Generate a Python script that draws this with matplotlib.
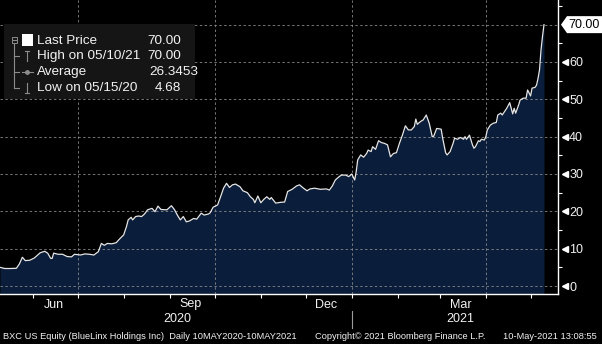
import numpy as np
import pandas as pd
import matplotlib
matplotlib.use('Agg')
import matplotlib.pyplot as plt
import matplotlib.dates as mdates
from matplotlib.patches import Rectangle, Polygon
from matplotlib.lines import Line2D
from matplotlib.transforms import ScaledTranslation, blended_transform_factory

# BXC US Equity, daily close 10MAY2020-10MAY2021 (calendar-day offsets from start)
start = pd.Timestamp('2020-05-10')
day_offsets = [0, 3, 5, 8, 11, 13, 15, 17, 20, 23, 27, 30, 32, 34, 35, 36, 39, 42, 45, 48,
               50, 54, 57, 60, 63, 66, 68, 70, 72, 75, 78, 80, 83, 85, 86, 88, 89, 91, 93, 95,
               97, 99, 102, 104, 106, 108, 112, 115, 117, 119, 121, 123, 125, 127, 130, 132, 135, 137, 140, 141,
               143, 146, 148, 150, 152, 154, 156, 158, 161, 163, 166, 168, 170, 171, 173, 175, 177, 179, 181, 182,
               185, 188, 191, 193, 196, 199, 201, 203, 206, 208, 211, 215, 219, 221, 223, 225, 227, 229, 232, 234,
               236, 238, 239, 240, 242, 244, 246, 247, 249, 250, 252, 254, 256, 258, 260, 262, 264, 266, 268, 270,
               272, 274, 276, 278, 279, 280, 282, 284, 286, 288, 290, 291, 293, 296, 297, 299, 300, 302, 304, 305,
               307, 309, 311, 312, 313, 315, 317, 318, 319, 321, 322, 323, 325, 326, 327, 329, 331, 333, 334, 336,
               337, 340, 342, 343, 344, 345, 346, 348, 349, 351, 353, 354, 356, 357, 359, 360, 361, 362, 363, 364,
               365]
prices = [5.0, 4.7, 4.68, 4.7, 4.75, 5.9, 7.7, 6.8, 6.9, 7.5, 8.9, 9.3, 8.8, 7.4, 7.4, 8.8, 8.5, 8.5, 7.9, 7.8,
          8.5, 8.3, 8.6, 8.5, 8.3, 9.2, 11.4, 10.9, 11.4, 11.3, 11.6, 12.5, 13.7, 16.1, 17.7, 18.4, 17.7, 18.6, 18.75, 18.6,
          19.3, 20.4, 20.8, 19.9, 21.4, 20.5, 20.4, 21.5, 20.5, 19.0, 17.7, 18.6, 17.2, 17.4, 18.1, 17.9, 19.5, 19.0, 19.3, 19.6,
          21.1, 21.7, 23.9, 26.2, 27.5, 26.4, 27.1, 27.3, 26.6, 25.5, 25.0, 23.9, 23.2, 22.3, 24.1, 22.3, 23.2, 23.9, 23.2, 23.7,
          22.2, 22.4, 22.5, 25.3, 25.9, 26.8, 27.1, 26.4, 25.5, 26.0, 26.2, 25.9, 26.0, 25.7, 26.8, 28.4, 29.1, 29.7, 29.7, 29.3,
          30.0, 28.4, 30.6, 33.75, 35.1, 34.5, 35.5, 36.4, 36.0, 37.3, 36.6, 38.9, 38.4, 38.2, 37.8, 34.6, 35.5, 35.7, 38.2, 40.4,
          42.9, 41.8, 41.8, 42.7, 44.7, 43.3, 44.0, 44.5, 45.8, 43.6, 40.0, 40.1, 42.2, 42.0, 39.6, 35.7, 35.1, 36.0, 38.2, 39.6,
          39.3, 39.8, 39.3, 40.0, 39.3, 40.4, 37.8, 36.9, 37.3, 38.9, 38.7, 39.3, 39.1, 40.0, 41.8, 43.1, 43.6, 43.8, 45.8, 46.3,
          45.8, 47.6, 49.1, 47.6, 46.1, 47.6, 46.3, 48.5, 49.8, 50.3, 50.3, 52.5, 50.9, 53.0, 53.2, 53.8, 55.6, 57.9, 63.2, 66.8,
          70.0]
avg_price = 26.3453

y_ticks = [0, 10, 20, 30, 40, 50, 60]
grid_levels = [0, 10, 20, 30, 40, 50, 60, 70]
quarter_starts = ['2020-07-01', '2020-10-01', '2021-01-01', '2021-04-01']
month_labels = ['Jun', 'Sep', 'Dec', 'Mar']
month_label_dates = ['2020-06-15', '2020-09-15', '2020-12-15', '2021-03-15']
year_labels = ['2020', '2021']
year_label_dates = ['2020-09-06', '2021-03-15']
footer_left = 'BXC US Equity (BlueLinx Holdings Inc)  Daily 10MAY2020-10MAY2021'
footer_mid = 'Copyright\u00a9 2021 Bloomberg Finance L.P.'
footer_right = '10-May-2021 13:08:55'

assert len(day_offsets) == len(prices)
dates = start + pd.to_timedelta(day_offsets, unit='D')


def dnum(s):
    return mdates.date2num(pd.Timestamp(s))


W, H = 602, 344
FILL = '#0a1e3b'
GRID = '#8a8a8a'
TXT = '#f2f2f2'
font = ['Liberation Sans', 'DejaVu Sans']


def fx(px):
    return px / W


def fy(py):
    return 1 - py / H


fig = plt.figure(figsize=(W / 100, H / 100), dpi=100, facecolor='black')
ax = fig.add_axes([0, fy(294), fx(558), 294 / H])
ax.set_facecolor('black')

ymin, ymax = -2.14, 76.6
ax.set_xlim(start, start + pd.Timedelta(days=374.4))
ax.set_ylim(ymin, ymax)

ax.fill_between(dates, prices, ymin, color=FILL, lw=0, zorder=1)
ax.plot(dates, prices, color='#e6e6e6', lw=0.9, zorder=3)

# dashed grid on top of the area
for lv in grid_levels:
    ax.axhline(lv, color=GRID, lw=0.7, ls=(0, (2.5, 2.5)), alpha=0.85, zorder=2)
for d in quarter_starts:
    ax.axvline(dnum(d), color=GRID, lw=0.7, ls=(0, (2.5, 2.5)), alpha=0.85, zorder=2)

# spines
for s in ['top', 'left']:
    ax.spines[s].set_visible(False)
for s in ['right', 'bottom']:
    ax.spines[s].set_color('white')
    ax.spines[s].set_linewidth(1.0)

# y axis on the right with arrow markers at major ticks
ax.yaxis.tick_right()
ax.set_yticks(y_ticks)
ax.set_yticklabels([str(v) for v in y_ticks], color=TXT, fontsize=9, family=font)
ax.set_yticks(np.arange(5, 80, 10), minor=True)
ax.tick_params(axis='y', which='major', length=0, pad=8)
ax.tick_params(axis='y', which='minor', length=3, width=0.8, color='white', direction='out')
ax.plot([1.012] * len(y_ticks), y_ticks, marker='<', ls='none', ms=5, color='white',
        transform=ax.get_yaxis_transform(), clip_on=False, zorder=5)

# x axis: ticks at month starts, labels drawn separately
ax.xaxis.set_major_locator(mdates.MonthLocator())
ax.xaxis.set_major_formatter(plt.NullFormatter())
ax.tick_params(axis='x', which='major', length=3, width=0.8, color='white', direction='out')

bt = blended_transform_factory(ax.transData, fig.transFigure)
for lab, d in zip(month_labels, month_label_dates):
    fig.text(dnum(d), fy(304.5), lab, transform=bt, ha='center', va='center',
             color=TXT, fontsize=9, family=font)
for lab, d in zip(year_labels, year_label_dates):
    fig.text(dnum(d), fy(319.5), lab, transform=bt, ha='center', va='center',
             color=TXT, fontsize=9, family=font)
fig.add_artist(Line2D([dnum('2021-01-01')] * 2, [fy(311), fy(328)], transform=bt,
                      color='#9a9a9a', lw=0.8))

# footer
fig.text(fx(3), fy(336.5), footer_left, ha='left', va='center', color=TXT, fontsize=6.7, family=font)
fig.text(fx(315), fy(336.5), footer_mid, ha='left', va='center', color=TXT, fontsize=6.7, family=font)
fig.text(fx(597), fy(336.5), footer_right, ha='right', va='center', color=TXT, fontsize=6.7, family=font)

# last price tag on the right axis
last = prices[-1]
tr = fig.dpi_scale_trans + ScaledTranslation(1.0, last, ax.get_yaxis_transform())
tag = np.array([[3, 0], [9, 8.5], [46, 8.5], [46, -8.5], [9, -8.5]]) / 100.0
fig.add_artist(Polygon(tag, closed=True, transform=tr, facecolor='white', edgecolor='none', zorder=6))
fig.text(0.105, 0.0, f'{last:.2f}', transform=tr, ha='left', va='center', color='black',
         fontsize=9, family=font, zorder=7)

# legend panel
fig.add_artist(Rectangle((fx(4), fy(99)), fx(191), 75 / H, transform=fig.transFigure,
                         facecolor='#151515', edgecolor='none', zorder=4))
rows_y = [40.5, 56, 72, 88]
row_labels = ['Last Price', 'High on 05/10/21', 'Average', 'Low on 05/15/20']
row_values = [f'{last:.2f}', f'{max(prices):.2f}', f'{avg_price:.4f}', f'{min(prices):.2f}']
for yy, lab in zip(rows_y, row_labels):
    fig.text(fx(37), fy(yy), lab, ha='left', va='center', color=TXT, fontsize=9.7, family=font, zorder=5)
for yy, val in zip(rows_y, row_values):
    if len(val.split('.')[1]) > 2:
        fig.text(fx(149), fy(yy), val, ha='left', va='center', color=TXT, fontsize=9.7, family=font, zorder=5)
    else:
        fig.text(fx(181), fy(yy), val, ha='right', va='center', color=TXT, fontsize=9.7, family=font, zorder=5)

tree = '#8c8c8c'


def seg(x0, y0, x1, y1, c=tree, lw=0.8):
    fig.add_artist(Line2D([fx(x0), fx(x1)], [fy(y0), fy(y1)], transform=fig.transFigure,
                          color=c, lw=lw, zorder=5))


# tree connector and collapse box
fig.add_artist(Rectangle((fx(11.5), fy(42.5)), fx(5), 5 / H, transform=fig.transFigure,
                         facecolor='none', edgecolor=tree, lw=0.7, zorder=5))
seg(12.5, 40, 16, 40)
seg(14, 43, 14, 88)
for yy in rows_y[1:]:
    seg(14, yy, 18.5, yy)
# series swatch
fig.add_artist(Rectangle((fx(21.5), fy(45.5)), fx(11), 12 / H, transform=fig.transFigure,
                         facecolor='white', edgecolor='none', zorder=5))
# high marker
seg(26.7, 51, 26.7, 61)
seg(24.5, 51, 29, 51)
# average marker
seg(21.5, 72, 33, 72)
fig.add_artist(Line2D([fx(27.3)], [fy(72)], transform=fig.transFigure, marker='o', ms=2.5,
                      color=tree, zorder=5))
# low marker
seg(26.7, 83, 26.7, 93)
seg(24.5, 93, 29, 93)

fig.savefig('out.png', dpi=100, facecolor='black')
